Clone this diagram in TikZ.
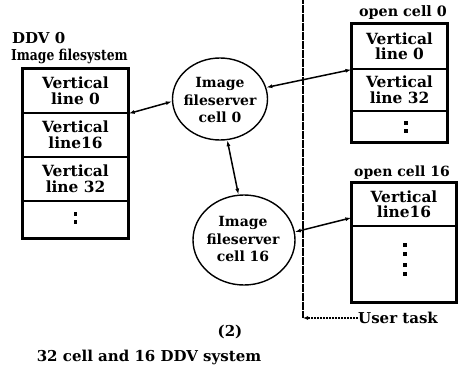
\documentclass[tikz,border=0pt]{standalone}
\usepackage{fontspec}
\setmainfont{DejaVu Serif}
\usetikzlibrary{arrows.meta,fit,calc,shapes.geometric}
\begin{document}
\begin{tikzpicture}[x=1pt,y=-1pt,
  cell/.style={draw,line width=1.2pt,minimum width=#1,inner sep=0pt,align=center,
    font=\bfseries\fontsize{15.4}{15.5}\selectfont},
  outer/.style={draw,line width=2.8pt,inner sep=0pt},
  srv/.style={draw,ellipse,line width=1.4pt,inner sep=0pt},
  srvtext/.style={inner sep=0pt,align=center,font=\bfseries\fontsize{14}{17.5}\selectfont},
  ttl/.style={font=\bfseries\fontsize{15}{16}\selectfont,inner sep=0pt},
  link/.style={line width=1.5pt,{Latex[length=6pt,width=4pt]}-{Latex[length=6pt,width=4pt]}},
  dotsq/.style={fill=black,minimum size=3.5pt,inner sep=0pt}
]
\useasboundingbox (0,0) rectangle (466,370);
% left box
\node[cell=105pt,minimum height=44pt] (l1) at (75.5,91) {Vertical\\line 0};
\node[cell=105pt,minimum height=44pt] (l2) at (75.5,135) {Vertical\\line16};
\node[cell=105pt,minimum height=44pt] (l3) at (75.5,179) {Vertical\\line 32};
\node[cell=105pt,minimum height=37pt] (l4) at (75.5,219.5) {};
\node[outer,fit=(l1)(l4)] (lbox) {};
\node[dotsq] (ld1) at (75.5,214) {};
\node[dotsq] (ld2) at (75.5,222) {};
\node[ttl,anchor=west] (t1) at (12,38) {DDV 0};
\node[ttl,anchor=west] (t2) at (11,56) {\scalebox{0.82}[1]{Image filesystem}};
% servers
\node[srv,minimum width=95pt,minimum height=82pt] (e0) at (220,99) {};
\node[srvtext] (e0t) at (220,100) {Image\\fileserver\\cell 0};
\node[srv,minimum width=102pt,minimum height=90pt] (e16) at (244,240) {};
\node[srvtext] (e16t) at (243,239) {Image\\fileserver\\cell 16};
% divider line
\coordinate (vt) at (303,0);
\coordinate (vb) at (303,318);
\draw[line width=1.8pt,dash pattern=on 4pt off 0.5pt] (vt) -- (vb);
% top right box
\node[ttl,font=\bfseries\fontsize{14.3}{16}\selectfont] (t3) at (403,13) {open cell 0};
\node[cell=95pt,minimum height=45pt] (r1) at (399.5,46.5) {Vertical\\line 0};
\node[cell=95pt,minimum height=42pt] (r2) at (399.5,90) {Vertical\\line 32};
\node[cell=95pt,minimum height=31pt] (r3) at (399.5,126.5) {};
\node[outer,fit=(r1)(r3)] (rbox) {};
\node[dotsq] (rd1) at (406,123) {};
\node[dotsq] (rd2) at (406,131) {};
% bottom right box
\node[ttl,font=\bfseries\fontsize{14}{16}\selectfont] (t4) at (402,173) {open cell 16};
\node[cell=104pt,minimum height=43pt] (s1) at (404,204.5) {Vertical\\line16};
\node[cell=104pt,minimum height=76pt] (s2) at (404,264) {};
\node[outer,fit=(s1)(s2)] (sbox) {};
\node[dotsq] (sd1) at (405,245) {};
\node[dotsq] (sd2) at (405,254) {};
\node[dotsq] (sd3) at (405,265) {};
\node[dotsq] (sd4) at (405,274) {};
% links
\draw[link] (l1.south east) -- (e0.183);
\draw[link] (e0.14) -- (r1.south west);
\draw[link] (e0.-80) -- (e16.97);
\draw[link] (e16.9) -- ($(s1.west)!0.6!(s1.south west)$);
% user task
\node[ttl,anchor=west] (ut) at (358,318) {User task};
\draw[line width=1.2pt,dash pattern=on 2.5pt off 0.5pt,-{Latex[length=5pt,width=4pt]}] (ut.west) -- (vb);
% captions
\node[ttl] (c1) at (230,332) {(2)};
\node[ttl] (c2) at (149,357) {32 cell and 16 DDV system};
\end{tikzpicture}
\end{document}
